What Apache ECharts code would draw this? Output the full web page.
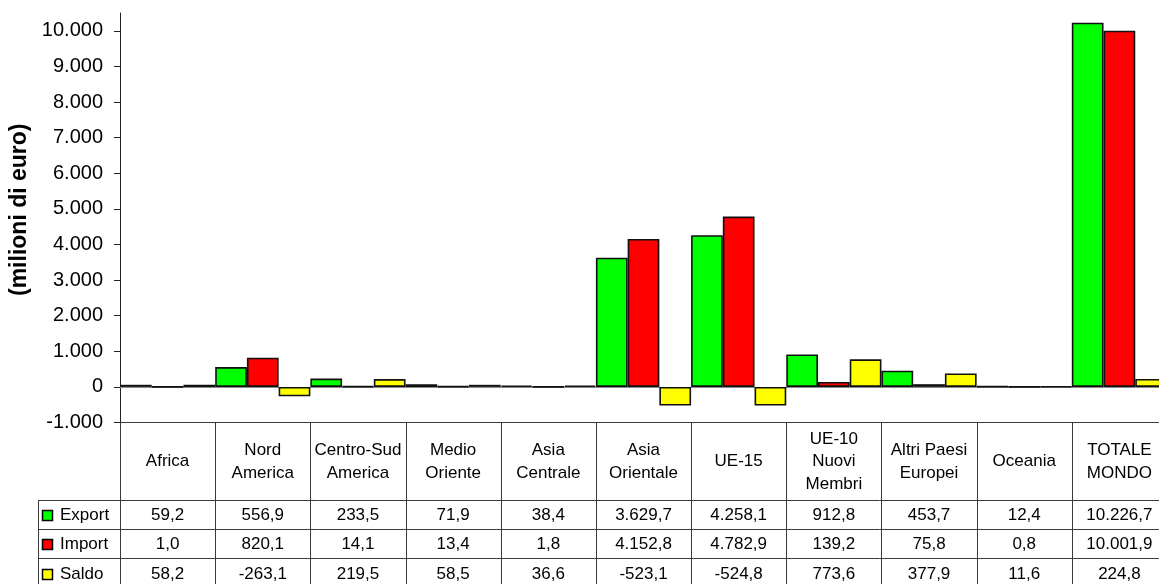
<!DOCTYPE html>
<html>
<head>
<meta charset="utf-8">
<script src="https://cdn.jsdelivr.net/npm/echarts@6/dist/echarts.min.js"></script>
<style>
html,body{margin:0;padding:0;background:#fff;}
#chart{width:1159px;height:584px;}
</style>
</head>
<body>
<div id="chart"></div>
<script>
// ---- data ----
const categories = ['Africa', 'Nord\nAmerica', 'Centro-Sud\nAmerica', 'Medio\nOriente', 'Asia\nCentrale',
  'Asia\nOrientale', 'UE-15', 'UE-10\nNuovi\nMembri', 'Altri Paesi\nEuropei', 'Oceania', 'TOTALE\nMONDO'];
const seriesNames = ['Export', 'Import', 'Saldo'];
const exportVals = [59.2, 556.9, 233.5, 71.9, 38.4, 3629.7, 4258.1, 912.8, 453.7, 12.4, 10226.7];
const importVals = [1.0, 820.1, 14.1, 13.4, 1.8, 4152.8, 4782.9, 139.2, 75.8, 0.8, 10001.9];
const saldoVals = [58.2, -263.1, 219.5, 58.5, 36.6, -523.1, -524.8, 773.6, 377.9, 11.6, 224.8];
const yTicks = [-1000, 0, 1000, 2000, 3000, 4000, 5000, 6000, 7000, 8000, 9000, 10000];
const yAxisTitle = '(milioni di euro)';

// ---- styles ----
const colors = ['#00FF00', '#FF0000', '#FFFF00'];
const FONT = '"Liberation Sans", Arial, sans-serif';
const lineColor = '#3a3a3a';

function fmt(v, dec) {
  const neg = v < 0;
  const s = Math.abs(v).toFixed(dec);
  const parts = s.split('.');
  const intPart = parts[0].replace(/\B(?=(\d{3})+(?!\d))/g, '.');
  return (neg ? '-' : '') + intPart + (dec > 0 ? ',' + parts[1] : '');
}

const chart = echarts.init(document.getElementById('chart'), null, {renderer: 'canvas'});
const allVals = [exportVals, importVals, saldoVals];

chart.setOption({
  animation: false,
  backgroundColor: '#fff',
  grid: {left: 120, width: 1047, top: 13, bottom: 161.5, containLabel: false, outerBoundsMode: 'none'},
  xAxis: {
    type: 'category',
    data: categories,
    axisLine: {onZero: true, lineStyle: {color: '#8a8a8a', width: 1}},
    axisTick: {show: false},
    axisLabel: {show: false},
    splitLine: {show: false}
  },
  yAxis: {
    type: 'value',
    min: -1000, max: 10500, interval: 1000,
    name: yAxisTitle,
    nameLocation: 'middle',
    nameRotate: 90,
    nameGap: 89,
    nameTextStyle: {fontFamily: FONT, fontWeight: 'bold', fontSize: 23, color: '#000', padding: [0, 0, 0, 16]},
    axisLine: {show: true, lineStyle: {color: '#222', width: 1}},
    axisTick: {show: true, length: 6, inside: false, customValues: yTicks, lineStyle: {color: '#222'}},
    axisLabel: {
      customValues: yTicks,
      margin: 17,
      fontFamily: FONT, fontSize: 20, color: '#000',
      formatter: v => fmt(v, 0)
    },
    splitLine: {show: false}
  },
  series: seriesNames.map((n, i) => ({
    name: n,
    type: 'bar',
    data: allVals[i],
    barGap: '0%',
    barCategoryGap: '0%',
    itemStyle: {color: colors[i], borderColor: '#111', borderWidth: 1.6}
  }))
});

function buildTable() {
  const c0 = chart.convertToPixel({xAxisIndex: 0}, 0);
  const c1 = chart.convertToPixel({xAxisIndex: 0}, 1);
  const bw = c1 - c0;
  const x0 = c0 - bw / 2;
  const xEnd = x0 + bw * categories.length;
  const yTop = chart.convertToPixel({yAxisIndex: 0}, -1000);
  const headerH = 77.5;
  const rowH = 29.2;
  const legendLeft = 38;
  const yBottom = 600;
  const els = [];
  const ls = {stroke: lineColor, lineWidth: 1};
  // top line
  els.push({type: 'line', shape: {x1: x0, y1: yTop, x2: xEnd, y2: yTop}, style: ls, silent: true});
  // vertical column lines
  for (let k = 0; k <= categories.length; k++) {
    const x = Math.round(x0 + k * bw) + 0.5;
    els.push({type: 'line', shape: {x1: x, y1: yTop, x2: x, y2: yBottom}, style: ls, silent: true});
  }
  // row lines
  for (let r = 0; r < 3; r++) {
    const y = Math.round(yTop + headerH + r * rowH) + 0.5;
    els.push({type: 'line', shape: {x1: legendLeft, y1: y, x2: xEnd, y2: y}, style: ls, silent: true});
  }
  els.push({type: 'line', shape: {x1: legendLeft + 0.5, y1: Math.round(yTop + headerH), x2: legendLeft + 0.5, y2: yBottom}, style: ls, silent: true});
  // header labels
  categories.forEach((c, i) => {
    els.push({type: 'text', x: x0 + (i + 0.5) * bw, y: yTop + headerH / 2 + 0.5, silent: true,
      style: {text: c, fontFamily: FONT, fontSize: 17, fill: '#000', align: 'center', verticalAlign: 'middle', lineHeight: 22.5}});
  });
  // data rows
  allVals.forEach((vals, r) => {
    const yc = yTop + headerH + r * rowH + rowH / 2 + 1;
    els.push({type: 'rect', shape: {x: 42.5, y: Math.round(yc - 5.5) + 0.5, width: 10, height: 10},
      style: {fill: colors[r], stroke: '#000', lineWidth: 1.5}, silent: true});
    els.push({type: 'text', x: 60, y: yc, silent: true,
      style: {text: seriesNames[r], fontFamily: FONT, fontSize: 17, fill: '#000', align: 'left', verticalAlign: 'middle'}});
    vals.forEach((v, i) => {
      els.push({type: 'text', x: x0 + (i + 0.5) * bw, y: yc, silent: true,
        style: {text: fmt(v, 1), fontFamily: FONT, fontSize: 17, fill: '#000', align: 'center', verticalAlign: 'middle'}});
    });
  });
  chart.setOption({graphic: {elements: els}});
}
buildTable();
</script>
</body>
</html>
